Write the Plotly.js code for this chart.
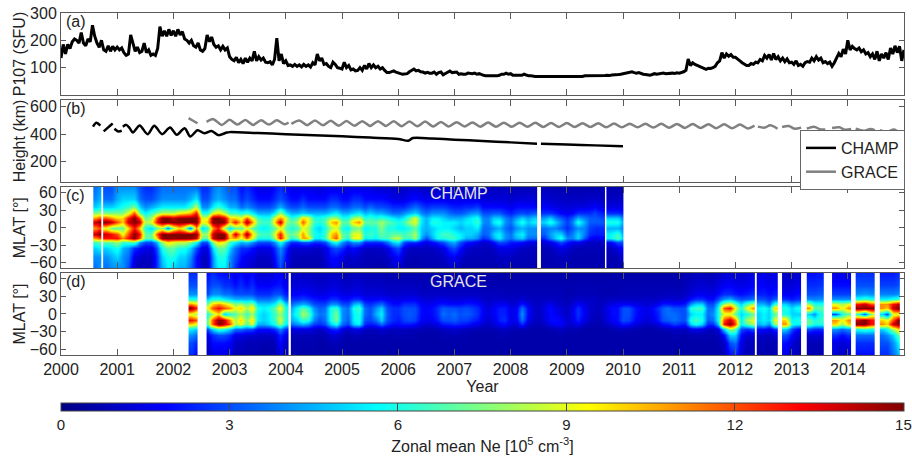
<!DOCTYPE html>
<html><head><meta charset="utf-8">
<script src="https://cdn.plot.ly/plotly-3.0.1.min.js"></script>
<style>html,body{margin:0;padding:0;background:#fff}#g{width:912px;height:456px}</style>
</head><body><div id="g"></div>
<script>
const yearTicks=[2000,2001,2002,2003,2004,2005,2006,2007,2008,2009,2010,2011,2012,2013,2014];
// P107 sampled every 0.04 yr from 2000.00
const p107Start=2000, p107Step=0.04;
const p107=[
135,185,150,185,170,195,205,200,190,228,190,180,205,195,255,215,190,175,200,165,160,180,160,178,165,
175,165,172,155,145,150,220,190,160,175,155,160,190,155,165,145,150,145,170,250,215,235,215,240,218,
235,215,240,220,232,205,200,190,200,180,175,190,165,160,170,220,195,212,185,175,180,165,178,165,172,
140,130,125,138,118,130,115,135,120,135,125,160,125,140,128,135,120,118,122,110,130,208,125,150,115,
125,108,110,105,112,105,110,103,112,105,110,102,118,110,150,125,135,112,115,105,100,120,112,100,98,
95,120,100,108,92,95,88,90,100,90,108,95,115,100,110,100,105,95,100,90,82,82,85,88,84,
80,78,76,76,78,85,90,95,88,90,85,84,80,83,80,80,84,76,82,84,74,78,84,88,82,
82,84,76,78,76,76,80,78,78,80,76,78,74,72,70,70,68,68,70,70,72,76,76,80,76,
78,72,72,70,70,72,76,72,70,70,68,68,68,68,68,68,68,66,66,66,66,66,67,67,66,
66,66,68,68,67,67,68,68,70,70,69,71,71,70,70,70,69,71,72,71,73,73,74,75,76,
78,80,82,84,85,82,80,82,78,76,75,73,72,75,78,76,78,79,80,78,79,80,80,79,81,
80,82,85,90,132,108,118,112,108,104,100,96,94,98,97,100,105,118,125,155,135,150,142,148,138,
138,130,125,118,112,108,108,115,112,120,118,130,125,145,135,148,128,152,130,140,125,135,122,132,118,
120,112,125,108,112,105,118,122,120,135,125,140,128,135,118,122,115,120,105,118,135,152,140,168,150,
200,165,178,170,165,172,158,165,150,155,140,150,130,160,125,150,135,155,130,172,150,180,155,178,125,165];

const champYears=[2000.57,2000.63,2000.70,null,2000.76,2000.84,2000.92,null,2000.95,2001.02,2001.08,null,2001.10,2001.16,2001.22,2001.28,2001.40,2001.54,2001.66,2001.80,2001.94,2002.06,2002.20,2002.30,2002.43,2002.55,2002.68,2002.80,2002.95,2003.0,2003.5,2004,2004.5,2005,2005.5,2006,2006.18,2006.26,2006.6,2007,2007.5,2008,2008.47,null,2008.54,2009,2009.5,2010];
const champHeight=[455,483,462,null,420,450,478,null,440,420,425,null,455,468,445,412,463,400,461,400,449,395,444,383,429,407,424,393,412,415,408,400,392,385,375,365,352,372,368,360,350,340,330,null,330,325,318,312];
const graceYears=[2002.27,2002.35,2002.43,null,2002.59,2002.71,2002.86,2003.00,2003.14,2003.28,2003.42,2003.56,2003.70,2003.84,2003.98,2004.05,null,2004.10,2004.24,2004.38,2004.52,2004.66,2004.80,2004.94,2005.08,2005.22,2005.36,2005.50,2005.64,2005.78,2005.92,2006.06,2006.20,2006.34,2006.48,2006.62,2006.76,2006.90,2007.04,2007.18,2007.32,2007.46,2007.60,2007.74,2007.88,2008.02,2008.16,2008.30,2008.44,2008.58,2008.72,2008.86,2009.00,2009.14,2009.28,2009.42,2009.56,2009.70,2009.84,2009.98,2010.12,2010.26,2010.40,2010.54,2010.68,2010.82,2010.96,2011.10,2011.24,2011.38,2011.52,2011.66,2011.80,2011.94,2012.08,2012.22,2012.34,null,2012.40,2012.52,2012.62,2012.75,null,2012.83,2012.95,2013.05,2013.17,null,2013.27,2013.40,2013.50,2013.60,null,2013.72,2013.85,2013.95,2014.06,null,2014.14,2014.28,2014.40,2014.48,null,2014.57,2014.70,2014.82,2014.92];
const graceHeight=[517,498,480,null,490,510,468,505,470,503,468,502,470,502,472,485,null,475,500,466,500,465,498,462,496,462,495,460,495,460,494,458,493,458,492,456,490,456,488,456,486,455,485,455,484,454,483,454,483,453,482,453,481,452,480,452,480,450,478,450,477,450,476,448,476,447,475,446,474,445,473,444,472,443,470,442,462,null,455,448,465,440,null,452,460,440,448,null,440,455,437,435,null,445,450,432,438,null,440,425,438,430,null,430,418,435,412];

// Latitudes of the rows, north to south
const mlat=[70,50,35,25,17,10,0,-10,-17,-25,-35,-50,-70];
// Zonal mean Ne, one list per 0.1 yr column
const champStart=2000.6;
const champNe=[
// 2000.6-2000.9
[3.5,4,5,7.5,11,14,11,14,11,6.5,5,4,3.5],[4,4.5,5.5,8,12,15,12,15,12,7,5.5,4,4],[3,3.5,5,7.5,12,15,9,14,13,7,5,4,3.5],[3,3.5,5,7.5,11,14,7,13,13,7,5.5,4.5,4],
// 2001
[4,4.5,5.5,7.5,10,12,7,12,13,8,6,5,4],[4,5,6,7.5,10,10,7,9,11,6.5,4.5,4,4],[4,5,6.5,9,13,14,10,12,13,6.5,4,3.5,3],[4,5,7.5,12,15,15,13,15,15,7,2.5,1.5,1],[3,3.5,5,7,12,14,10,13,12,4,2,1,.8],[2.5,3,4,5.5,7,8,6,7,7,3,1.5,1,.8],[2.5,3,4.5,6.5,8,9,5,7,7,3,1.5,1,1],[3,3.5,5,7.5,12,13,7,12,10,4.5,3,2.5,2.5],[3.5,4,5.5,8.5,15,15,8,15,15,8,6,5,4.5],[3.5,4,5.5,8.5,15,15,3.5,15,15,10,7,6,5.5],
// 2002
[3.5,4,5.5,8.5,14,15,8,15,15,9,7,6,5],[3.5,4,5.5,9.5,15,15,10,15,15,8.5,6,5,4.5],[3.5,4,5.5,10,15,15,8,15,15,8.5,6,5,4.5],[3.5,4.5,6.5,10.5,15,15,3.5,15,15,7.5,5,4,3.5],[3.5,5.5,8.5,13,15,15,11,15,14,6,3,2,2],[2.5,3,4,6,9,9,5,8,7,3,1.5,1,1],[2.5,3,4,6,9,10,6,8,7,3,1.5,1,1],[3.5,4,5.5,9,15,15,11,14,14,7.5,5,4,4],[4,4.5,6.5,10,15,15,13,15,15,10,7,6,5.5],[3.5,4,5.5,8.5,14,15,8,15,15,9,7,6,5.5],
// 2003
[3,3.5,4.5,6.5,10,10,5,9,10,6.5,5,4,4],[3,3.5,4.5,6.5,10,13,7,14,11,5.5,3.5,3,2.5],[2,2.5,3.5,6,9,10,7,10,9,4.5,2.5,2,1.5],[2.5,3,4,6.5,12,15,9,15,12,5,2.5,1.5,1.5],[2,2.5,3.5,5.5,9,11,7,10,9,4,2,1.5,1],[1.5,2,3,4.5,6.5,7,6,7,6,3,1.5,1,.8],[1.5,2,3,4.5,6,6.5,5.5,6.5,6,3,1.5,1,.8],[1.5,2,3,4.5,6,6.5,6,6.5,6,3,1.5,1,.8],[2,2.5,3.5,5.5,9,10,7,9,8,4,2.5,2,1.5],[2.5,3,4.5,8,11,14,9,13,13,6,4,3.5,3],
// 2004
[2,2.5,3.5,5.5,9,8,7,8,9,4,2.5,2,1.5],[1.5,2,3,4.5,6,7,6,7,6,2.5,1.2,1,.8],[1.5,2,3,4.5,7,8,6.5,8,7,2.5,1.2,.8,.7],[1.5,2.5,3.5,5,10,12,9,11,11,3,1.2,.8,.7],[1.5,2,3,4.5,9,9,8,8,10,3,1.2,.8,.7],[1.5,2,3,4.5,6,6.5,5.5,6,5.5,2.5,1,.8,.7],[1.2,2,3,4.5,6,6,5,5.5,5.5,2.5,1,.8,.7],[1.5,2,3,4.5,6.5,7,6,6.5,6.5,3,1.5,1.2,1],[1.5,2.5,3.5,5,8,10,8,10,10,5,2.5,2,1.5],[1.5,2.5,3.5,5.5,8,11,9,11,12,6,3,2,1.5],
// 2005
[1.5,2,3,4.5,6,7,6,7,7,4,2.5,1.5,1],[1.5,2,3,4.5,6,7,5.5,6.5,6,3,1.5,1,.8],[1.5,2.5,3.5,5,8,10,7,9,9,4,2,1.2,.8],[1.5,2.5,3.5,5.5,8.5,11,7.5,9,9.5,4,1.5,1,.8],[1.5,2,3,4.5,6,7,5.5,6,5.5,2.5,1,.8,.7],[1.5,2,3.5,5,6.5,7,6,6.5,6,2.5,1,.8,.7],[1.2,2,3,4.5,6,7,6,6,5.5,2.5,1,.8,.6],[1.2,2,3,4.5,6.5,8,7.5,7,6.5,2.5,1,.8,.6],[1.2,1.8,2.8,4,6,7,6,6.5,6.5,3.5,1.5,1,.7],[1,1.5,2.5,3.5,5.5,6.5,6,7,8,5,2.5,1.5,1],
// 2006
[1,1.5,2.5,3.5,5,6,5.5,7,8.5,5.5,3,2,1.2],[1,1.5,2.5,4,5.5,6.5,5.5,6.5,6.5,3,1.5,1,.7],[1.2,1.8,3,4.5,7,8,6,7,6.5,2.5,1,.8,.6],[1.2,2,3.5,5,9,9,7,8,8,2.5,.9,.7,.6],[1,1.8,3,4,5.5,5.5,5,5,4.5,2,1,.8,.7],[1,1.6,2.5,3.5,4.5,4.5,4.5,4,3,1.5,.9,.8,.7],[1,1.6,2.8,4,5.5,6,5,5,4.5,2,1,.8,.7],[1,1.6,2.8,4,5.5,6,5.5,6,6,2.5,1.2,.9,.7],[1,1.6,2.8,4,5,5.5,5.5,6.5,6,3,1.5,1,.7],[1,1.5,2.5,3.5,4.5,5.5,5.5,6.5,6.5,4,2.5,1.5,.9],
// 2007
[1,1.5,2.3,3.2,4.5,5.5,5,6,6.5,4.5,3,1.8,1],[1,1.5,2.3,3.2,4.5,5,4.5,5.5,5.5,3,2,1.2,.8],[1,1.5,2.5,3.5,5,5.5,5,5,4.5,2.2,1.2,.8,.7],[1,1.5,2.5,4,5.5,5.5,5,5,4.5,2,1,.8,.7],[1,1.5,2.8,4.2,6,6.5,5.5,4.5,4,1.5,.9,.8,.7],[.9,1.3,2,3,3.8,4,3.5,3.2,2.5,1.2,.9,.8,.7],[.9,1.3,2,3,3.8,3.8,3.5,3.5,3,1.2,.9,.8,.7],[.9,1.3,2,3.2,5,5.5,4,5,4.5,2,1,.8,.7],[.9,1.3,2,3.2,5,6,4.5,5.5,5.5,3,1.5,1,.7],[.9,1.3,1.9,2.6,3.8,4,3.5,4,4,2.8,1.5,1,.7],
// 2008
[.8,1.1,1.6,2.3,3.2,3.5,3,3.5,3.5,2.2,1.5,1,.7],[.8,1.3,2,2.8,4.2,5,4,5,4.5,2.2,1.2,.8,.7],[.8,1.3,2,3,5,6,4.5,5.5,5,2,1,.8,.7],[.8,1.3,2,2.8,4.2,4.8,4,4,3.5,1.5,.9,.8,.7],[.8,1.3,2,3.2,5,5.5,4,4,3.5,1.5,.9,.8,.7],[.8,1.3,2,2.8,3.8,4,3.5,3,2.5,1.2,.9,.8,.7],[.8,1.3,1.8,2.6,4.2,5,3.5,3.2,2.5,1.2,.8,.7,.7],[.8,1.1,1.7,2.6,5,6,3.8,4.2,3.8,1.6,.9,.7,.7],[.8,1.1,1.5,2.3,3.8,5,3.8,5,5,2.2,1.2,.8,.7],[.7,1,1.4,1.9,3.2,3.8,3.2,5,6,3,1.5,.9,.7],
// 2009-2010.0
[.7,1,1.3,1.7,2.5,2.8,2.5,3.2,3.8,2.2,1.2,.8,.7],[.7,1,1.4,1.9,3.2,3.8,3.2,3.8,3.8,1.6,.9,.7,.7],[.7,1,1.5,2.5,4.5,6,4,5,5,1.6,.8,.7,.7],[.7,1,1.5,2.5,3.8,4.5,3.8,3.8,3.2,1.2,.8,.7,.7],[.7,1.1,1.6,2.5,3.2,3.2,2.8,2.5,1.9,1,.8,.7,.7],[.7,1.1,1.9,2.8,3.2,3.2,2.5,2.3,1.6,1,.8,.7,.7],[.7,1,1.5,2.3,2.9,3.2,2.5,2.3,1.8,1,.8,.7,.7],[.7,1,1.3,2,3.8,4.5,3.2,3.2,3.2,1.2,.8,.7,.7],[.7,1,1.5,2.5,5,6,4.5,5.5,5.5,1.9,.9,.7,.7],[.7,1,1.5,2.5,5,6,4.5,6.5,7,3,1.5,.8,.7],[.7,1,1.5,2.3,3.8,4.5,3.8,4.5,5,3,1.9,1.1,.7]
];
const graceStart=2002.3;
const graceNe=[
// 2002.3-2002.9
[2.5,3,4,6,11,15,9,13,10,5.5,4,3,2.5],[2.5,3,4,6,10,13,8,12,9,5,3.5,2.5,2],null,[2,2.5,3,5,7.5,9,6,7,7,3,1.5,1,.8],[2.5,3,4,6,10,12,8,12,12,5,2.5,2,1.5],[2,3,4,6,11,13,10,15,15,6.5,3,2,1.5],[2,2.5,3.5,5.5,10,12,5,14,14,6,3,2,1.5],
// 2003
[2,2.5,3.5,5,9,11,6,11,12,5,2.5,1.8,1.5],[1.5,2,3,4.5,7.5,9,7,8,8,3.5,1.5,1,.8],[2,2.5,3,4.5,8,10,8,10,9,3.5,1.5,1,.8],[1.5,2,3,4.5,7,8,6.5,7.5,7,3,1.2,.8,.7],[2,2.5,3,4.5,8,10,8,10,9,3,1.2,.8,.7],[1.2,1.8,2.5,3.5,5,6,5.5,5.5,4.5,2,1,.8,.7],[1.2,1.8,2.5,3.5,5,5.5,5,5,4.5,2,1,.7,.6],[1.2,1.8,2.5,3.5,5,6,5.5,5.5,5,2,1,.7,.6],[1.5,2,3,4,5.5,7,6.5,6.5,6,2.5,1.2,.8,.7],[1.8,2.2,3,5,8,9.5,8,9,8,4,2.5,2,1.5],
// 2004
[1.2,1.6,2.2,3,5,6,6,6,5.5,2.5,1.5,1,.8],[1,1.3,1.8,2.5,3.5,4.5,5,4.5,3.5,1.5,.8,.7,.6],[1,1.3,1.8,2.5,4,5.5,6,5,4,1.5,.8,.7,.6],[1,1.3,2,2.8,4.5,7,8,6.5,4.5,1.5,.8,.7,.6],[1,1.3,1.8,2.5,4,6,7,6,4,1.5,.8,.7,.6],[.9,1.2,1.6,2.2,3,4,4.5,3.8,2.8,1.2,.8,.7,.6],[.9,1.1,1.5,2,2.8,3.2,3.5,3,2.5,1,.7,.6,.6],[.9,1.1,1.5,2,2.8,3.5,3.8,3.5,3,1.2,.8,.6,.6],[1,1.3,1.8,2.5,4,6,6,6,5,2.2,1.2,.8,.6],[1,1.3,1.8,2.5,4,6.5,7.5,7.5,6,2.5,1.2,.8,.6],
// 2005
[.9,1.1,1.5,2,3,4,4,4,3.5,1.5,.9,.7,.6],[.8,1,1.4,2,2.8,3.5,3.5,3.2,2.8,1,.7,.6,.6],[.9,1.2,1.6,2.5,4.5,6,5.5,5.5,5,1.5,.8,.6,.6],[.9,1.2,1.6,2.5,5,6.5,6,6,5.5,1.5,.8,.6,.6],[.8,1,1.3,1.8,2.8,3.5,3.5,3,2.5,1,.7,.6,.6],[.8,1,1.3,1.8,2.5,3,3,2.8,2.2,.9,.7,.6,.6],[.8,1,1.3,1.8,3,4,4.5,3.5,2.5,.9,.7,.6,.6],[.8,1,1.3,2,3.5,5,5.5,5,3.5,1.2,.8,.6,.6],[.7,.9,1.2,1.7,2.5,3,3.2,3,2.5,1,.7,.6,.6],[.7,.9,1.1,1.5,2,2.5,2.5,2.5,2,.9,.7,.6,.6],
// 2006
[.7,.9,1.1,1.5,2,2.5,2.5,2.2,2,1,.7,.6,.6],[.7,.9,1.2,1.6,2.5,3,3,2.8,2.2,.9,.7,.6,.6],[.7,.9,1.2,1.7,2.5,3,3.2,3,2.2,.9,.7,.6,.6],[.7,.9,1.2,1.7,2.5,3,3,2.8,2,.8,.7,.6,.6],[.7,.8,1,1.4,1.8,2,2,1.8,1.4,.8,.6,.6,.6],[.7,.8,1,1.3,1.6,1.8,1.8,1.6,1.2,.7,.6,.6,.6],[.7,.8,1,1.3,1.7,2,2,1.8,1.3,.7,.6,.6,.6],[.7,.8,1,1.4,2,2.5,2.5,2.2,1.5,.8,.6,.6,.6],[.7,.8,1,1.5,2.2,3.2,3.5,3,2.2,.9,.7,.6,.6],[.6,.8,1,1.4,2,3,3.2,3,2.3,1,.7,.6,.6],
// 2007
[.6,.8,1,1.3,2,3,3.5,3.2,2.5,1.2,.8,.6,.6],[.6,.8,1,1.3,2,2.8,3,2.8,2.3,1,.7,.6,.6],[.6,.8,1,1.4,2.2,3,3.2,2.8,2.2,.9,.7,.6,.6],[.6,.8,1,1.4,2.2,2.8,3,2.5,1.8,.8,.6,.6,.6],[.6,.8,1,1.4,2,2.5,2.6,2.2,1.6,.8,.6,.6,.6],[.6,.7,.9,1.1,1.5,1.8,1.8,1.6,1.2,.7,.6,.6,.6],[.6,.7,.9,1,1.2,1.3,1.4,1.2,1,.7,.6,.6,.6],[.6,.7,.9,1.1,1.5,1.8,1.8,1.6,1.3,.7,.6,.6,.6],[.6,.7,.9,1.1,1.7,2.2,2.3,2.3,1.8,.9,.7,.6,.6],[.6,.7,.8,1.1,1.7,2.2,2.3,2.5,2,1,.7,.6,.6],
// 2008
[.6,.7,.8,1,1.2,1.5,1.5,1.5,1.3,.8,.6,.6,.6],[.6,.7,.8,1,1.3,1.7,1.8,1.7,1.3,.7,.6,.6,.6],[.6,.7,.9,1.2,2.2,3.5,4,3.5,2.5,.8,.6,.6,.6],[.6,.7,.8,1,1.5,2,2,1.8,1.2,.7,.6,.6,.6],[.6,.7,.8,.9,1.1,1.2,1.2,1.1,.9,.6,.6,.6,.6],[.6,.7,.8,.9,1,1,1,.9,.8,.6,.6,.6,.6],[.6,.7,.8,.9,1.3,1.5,1.4,1.3,1,.6,.6,.6,.6],[.6,.7,.8,1,1.6,2,2,2,1.5,.7,.6,.6,.6],[.6,.7,.8,.9,1.2,1.5,1.7,2,1.8,.8,.6,.6,.6],[.6,.7,.8,.9,1,1.2,1.3,1.8,1.8,1,.7,.6,.6],
// 2009
[.6,.7,.7,.8,.9,1,1,1.2,1.2,.7,.6,.6,.6],[.6,.7,.7,.9,1.2,1.5,1.6,1.5,1.2,.7,.6,.6,.6],[.6,.7,.8,1.1,1.8,2.5,2.6,2.3,1.6,.7,.6,.6,.6],[.6,.7,.8,1,1.4,1.7,1.8,1.5,1,.6,.6,.6,.6],[.6,.7,.8,1,1.1,1.1,1.1,1,.8,.6,.6,.6,.6],[.6,.7,.8,1,1,1,.9,.8,.7,.6,.6,.6,.6],[.6,.7,.7,.8,.9,.9,.9,.8,.7,.6,.6,.6,.6],[.6,.7,.7,.9,1.2,1.5,1.4,1.3,1,.6,.6,.6,.6],[.6,.7,.7,1,1.5,2,2,1.8,1.3,.7,.6,.6,.6],[.6,.7,.7,1,1.5,2,2,2,1.6,.8,.6,.6,.6],
// 2010
[.6,.7,.8,1,1.8,3,3,3,2.2,.9,.6,.6,.6],[.6,.7,.8,1,1.8,3,3,2.8,2,.8,.6,.6,.6],[.6,.7,.8,1,1.5,2.2,2.2,2,1.4,.7,.6,.6,.6],[.6,.7,.8,1,1.4,1.8,1.8,1.6,1.2,.7,.6,.6,.6],[.6,.7,.8,1,1.2,1.5,1.5,1.3,1,.6,.6,.6,.6],[.6,.7,.8,1,1.3,1.8,1.7,1.5,1,.6,.6,.6,.6],[.6,.7,.8,1,1.6,2.4,2.2,2,1.3,.7,.6,.6,.6],[.6,.7,.9,1.2,2.2,3.2,3.2,3,2,.8,.6,.6,.6],[.6,.7,.9,1.2,2.2,3.5,3.5,3.2,2.2,.8,.6,.6,.6],[.6,.7,.9,1.2,2,3,3.5,3.5,2.8,1,.7,.6,.6],
// 2011
[.6,.7,.9,1.2,2,3,3.2,3.2,2.5,1,.7,.6,.6],[.7,.8,1,1.3,2.2,3,3,3,2.2,.9,.6,.6,.6],[.8,1,1.3,2,4,6,5,6,5,1.5,.7,.6,.6],[.9,1.1,1.6,2.5,5,6.5,5.5,6.5,6,1.6,.7,.6,.6],[.9,1.2,1.7,2.5,5,6.5,5.5,6,5,1.5,.7,.6,.6],[.8,1.1,1.5,2,3,3.5,3.5,3.2,2.5,1,.7,.6,.6],[.8,1.1,1.5,2,3,3.5,4,3.5,2.5,.9,.7,.6,.6],[1,1.4,2,3,5,6,6,6,5,1.5,.8,.7,.6],[1.2,1.7,2.5,4,8,12,9,12,13,5,2,1,.8],[1.2,1.8,2.5,4.5,9,13,9,14,15,8,5,3,2],
// 2012
[1.2,1.6,2.2,3.5,7,9,7,11,12,7,5,3.5,2.5],[1.1,1.5,2,3,5,6,5,5.5,5.5,3,2,1.5,1.2],[1.2,1.6,2.2,3.2,7,9,6,8,7,2.5,1.2,.9,.8],[1.5,1.8,2.5,3.5,8,11,7,9,8,3,1.2,.9,.8],[1.5,1.8,2.2,3,4.5,5.5,5,5,4.5,2,1,.8,.7],[1.5,1.8,2.3,3,4.5,6,5.5,5.5,5,2,1,.8,.7],[1.3,1.6,2,2.5,3.5,5,5,5,4,1.5,.9,.7,.7],[1.5,1.8,2.2,3.2,6.5,10,7,9,8,2.5,1.2,.8,.7],null,[1,1.3,1.7,2.5,5,6,6,10,11,5,3,2,1.5],
// 2013
[1,1.3,1.7,2.2,4,5,5,5.5,6,3,2,1.3,1],[1.2,1.5,2,2.5,4.5,6,5,6,5.5,2,1.2,.9,.8],null,[2,2.5,3,4,8,11,5,7,7,3,1.2,.8,.7],[2,2.5,3,3.8,6,7,4,6,6,2.5,1.2,.8,.7],[2.2,2.6,3.2,4,6,7,6,6.5,6,2.5,1.2,.8,.7],null,null,[1.5,2,2.8,4,9,11,3,11,10,4,2.5,1.5,1.2],[1.5,2,2.8,4,8,9,6,9,8,3.5,2,1.2,1],
// 2014
[1.5,2,2.8,4,9,11,7,11,10,4,2.5,1.5,1.2],null,[2.5,3,4,6,13,15,6,14,15,6,3.5,2.5,2],[2.5,3,4.2,6.5,14,15,3,15,15,6.5,3.5,2.5,2],[2.5,3,4,6,12,15,8,13,13,6,3.5,2.5,2],null,[2.2,2.8,3.8,5.5,11,11,5,10,11,5,3.5,3,2.5],[2.2,2.8,3.8,5.5,11,10,2.8,9,10,6,4,3,2.5],[2.2,2.8,3.8,6,13,14,9,12,14,8,5,4,3.5],[2.5,3,4,6.5,14,15,9,15,15,10,7,5.5,4.5]
];
// Continuous data periods (outside them the panels are blank)
const champPeriods=[[2000.575,2000.72],[2000.75,2008.48],[2008.54,2009.685],[2009.705,2010.0]];
const gracePeriods=[[2002.27,2002.43],[2002.59,2004.05],[2004.09,2012.34],[2012.38,2012.75],[2012.83,2013.17],[2013.27,2013.58],[2013.72,2014.06],[2014.14,2014.48],[2014.57,2014.92]];

const jet=[[0,'rgb(0,0,131)'],[0.125,'rgb(0,0,255)'],[0.375,'rgb(0,255,255)'],[0.625,'rgb(255,255,0)'],[0.875,'rgb(255,0,0)'],[1,'rgb(128,0,0)']];
const cbTicks=[0,3,6,9,12,15];

function segs(start,cols,periods,xa,ya){
  const lat=mlat.slice().reverse();
  const out=[];
  periods.forEach(p=>{
    const xs=[],rowsByCol=[];
    cols.forEach((c,i)=>{const yr=start+i*0.1; if(c&&yr>=p[0]-1e-6&&yr<=p[1]+1e-6){xs.push(yr);rowsByCol.push(c.slice().reverse());}});
    const edges=[p[0]];
    for(let i=0;i<xs.length-1;i++)edges.push((xs[i]+xs[i+1])/2);
    edges.push(p[1]);
    const z=lat.map((_,r)=>rowsByCol.map(c=>c[r]));
    out.push({type:'heatmap',x:edges,y:lat,z:z,coloraxis:'coloraxis',zsmooth:'best',xaxis:xa,yaxis:ya,showlegend:false,hoverinfo:'skip'});
  });
  return out;
}
const data=[
 {type:'scatter',mode:'lines',x:p107.map((_,i)=>p107Start+i*p107Step),y:p107,line:{color:'#000',width:3},showlegend:false,xaxis:'x',yaxis:'y'},
 {type:'scatter',mode:'lines',name:'CHAMP',x:champYears,y:champHeight,line:{color:'#000',width:2.5,shape:'spline',smoothing:0.8},connectgaps:false,xaxis:'x2',yaxis:'y2'},
 {type:'scatter',mode:'lines',name:'GRACE',x:graceYears,y:graceHeight,line:{color:'#808080',width:2.5,shape:'spline',smoothing:0.8},connectgaps:false,xaxis:'x2',yaxis:'y2'},
 ...segs(champStart,champNe,champPeriods,'x3','y3'),
 ...segs(graceStart,graceNe,gracePeriods,'x4','y4')
];
const F='"Liberation Sans",Arial,sans-serif';
const axc='#5a5a5a';
function xax(anchor,extra){return Object.assign({domain:[0,1],range:[2000,2015],anchor:anchor,tickmode:'array',tickvals:yearTicks,showticklabels:false,ticks:'inside',ticklen:6,tickcolor:axc,showline:true,linecolor:axc,linewidth:1,mirror:'ticks',showgrid:false,zeroline:false},extra||{});}
function yax(anchor,dom,range,tv,title){return {domain:dom,range:range,anchor:anchor,tickmode:'array',tickvals:tv,ticks:'inside',ticklen:5,tickcolor:axc,showline:true,linecolor:axc,linewidth:1,mirror:'ticks',showgrid:false,zeroline:false,tickfont:{size:16,color:'#222'},title:{text:title,font:{size:16,color:'#222'},standoff:0}};}
const layout={
 width:912,height:456,margin:{l:61,r:8,t:13,b:0},paper_bgcolor:'#fff',plot_bgcolor:'#fff',font:{family:F,size:16,color:'#222'},
 xaxis:xax('y'),xaxis2:xax('y2'),xaxis3:xax('y3'),
 xaxis4:xax('y4',{showticklabels:true,ticktext:yearTicks.map(String),tickfont:{size:16,color:'#222'},title:{text:'Year',font:{size:16,color:'#222'},standoff:0}}),
 yaxis:yax('x',[.8149,1],[0,300],[100,200,300],'P107 (SFU)'),
 yaxis2:yax('x2',[.6185,.8036],[50,650],[200,400,600],'Height (km)'),
 yaxis3:yax('x3',[.4233,.6072],[-70,70],[-60,-30,0,30,60],'MLAT [°]'),
 yaxis4:yax('x4',[.228,.4131],[-70,70],[-60,-30,0,30,60],'MLAT [°]'),
 coloraxis:{colorscale:jet,cmin:0,cmax:15.01,colorbar:{orientation:'h',x:0.5,xanchor:'center',y:.1196,yanchor:'top',len:1,lenmode:'fraction',thickness:8,thicknessmode:'pixels',xpad:0,ypad:0,outlinewidth:1,outlinecolor:'#444',tickmode:'array',tickvals:cbTicks,ticks:'inside',ticklen:8,tickcolor:'#444',tickfont:{size:15,color:'#222'},title:{text:'Zonal mean Ne [10<sup>5</sup> cm<sup>-3</sup>]',side:'bottom',font:{size:16,color:'#222'}}}},
 legend:{x:(800-61)/843,xanchor:'left',y:(456-130)/443,yanchor:'top',bgcolor:'#fff',bordercolor:'#666',borderwidth:1,font:{size:16,color:'#222'},itemwidth:30,entrywidth:58,entrywidthmode:'pixels',tracegroupgap:0},
 annotations:[
  {text:'(a)',xref:'x domain',yref:'y domain',x:0.003,y:.9,xanchor:'left',yanchor:'middle',showarrow:false,font:{size:16,color:'#222'}},
  {text:'(b)',xref:'x2 domain',yref:'y2 domain',x:0.003,y:.9,xanchor:'left',yanchor:'middle',showarrow:false,font:{size:16,color:'#222'}},
  {text:'(c)',xref:'x3 domain',yref:'y3 domain',x:0.003,y:.9,xanchor:'left',yanchor:'middle',showarrow:false,font:{size:16,color:'#222'}},
  {text:'(d)',xref:'x4 domain',yref:'y4 domain',x:0.003,y:.9,xanchor:'left',yanchor:'middle',showarrow:false,font:{size:16,color:'#222'}},
  {text:'CHAMP',xref:'x3 domain',yref:'y3 domain',x:0.472,y:.92,xanchor:'center',yanchor:'middle',showarrow:false,font:{size:16,color:'#e4e4e4'}},
  {text:'GRACE',xref:'x4 domain',yref:'y4 domain',x:0.472,y:.9,xanchor:'center',yanchor:'middle',showarrow:false,font:{size:16,color:'#e4e4e4'}}
 ]
};
Plotly.newPlot('g',data,layout,{displayModeBar:false,staticPlot:true});
</script></body></html>
